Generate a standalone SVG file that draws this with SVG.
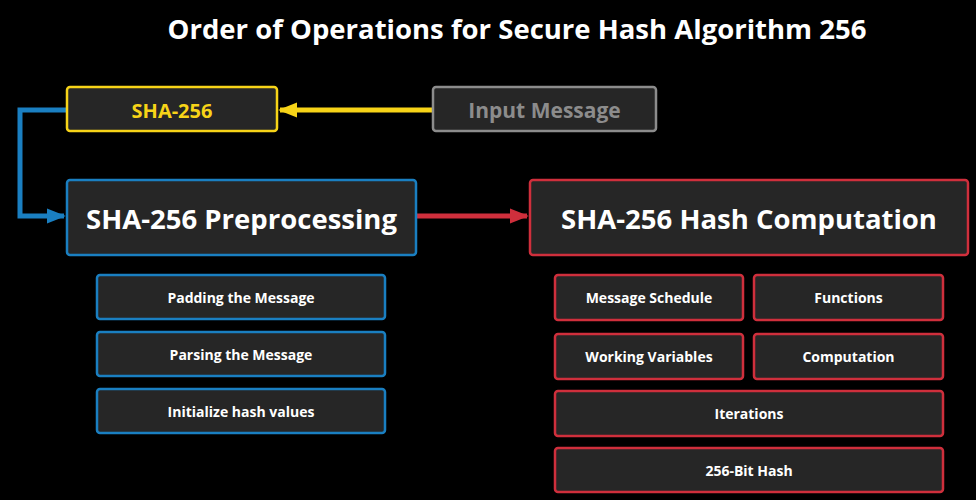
<svg xmlns="http://www.w3.org/2000/svg" width="976" height="500" viewBox="0 0 976 500">
<style>
text{font-family:"Open Sans","Noto Sans","DejaVu Sans",sans-serif;font-weight:bold;text-anchor:middle;dominant-baseline:central;fill:#ffffff}
.box{fill:#262626;stroke-width:2.5}
.y{stroke:#f7d418}
.g{stroke:#8c8c8c}
.b{stroke:#1a7fc1}
.r{stroke:#cf2f3c}
.s{font-size:14px}
</style>
<defs>
<marker id="ay" viewBox="0 0 10 10" refX="9" refY="5" markerWidth="3.8" markerHeight="3.8" orient="auto" markerUnits="strokeWidth"><path d="M0,1 L10,5 L0,9 z" fill="#f7d418"/></marker>
<marker id="ab" viewBox="0 0 10 10" refX="9" refY="5" markerWidth="3.8" markerHeight="3.8" orient="auto" markerUnits="strokeWidth"><path d="M0,1 L10,5 L0,9 z" fill="#1a7fc1"/></marker>
<marker id="ar" viewBox="0 0 10 10" refX="9" refY="5" markerWidth="3.8" markerHeight="3.8" orient="auto" markerUnits="strokeWidth"><path d="M0,1 L10,5 L0,9 z" fill="#cf2f3c"/></marker>
</defs>
<rect width="976" height="500" fill="#000"/>
<text x="517" y="28" style="font-size:27.5px">Order of Operations for Secure Hash Algorithm 256</text>
<g id="connectors" fill="none" stroke-width="5">
<path d="M433,110 H280" stroke="#f7d418" marker-end="url(#ay)"/>
<path d="M67,110 H20 V216 H64" stroke="#1a7fc1" marker-end="url(#ab)"/>
<path d="M417,216 H527" stroke="#cf2f3c" marker-end="url(#ar)"/>
</g>
<g id="sha256"><rect class="box y" x="67" y="87" width="210" height="44" rx="3"/><text x="172" y="110" style="font-size:20px;fill:#f7d418">SHA-256</text></g>
<g id="input"><rect class="box g" x="433" y="87" width="223" height="44" rx="3"/><text x="544.5" y="110" style="font-size:21px;fill:#8c8c8c">Input Message</text></g>
<g id="pre"><rect class="box b" x="67" y="180" width="349" height="75" rx="3"/><text x="241.5" y="218" style="font-size:27.5px">SHA-256 Preprocessing</text></g>
<g id="hash"><rect class="box r" x="530" y="180" width="438" height="75" rx="3"/><text x="749" y="218" style="font-size:27.5px">SHA-256 Hash Computation</text></g>
<g id="padding"><rect class="box b" x="97" y="275" width="288" height="44" rx="3"/><text class="s" x="241" y="297">Padding the Message</text></g>
<g id="parsing"><rect class="box b" x="97" y="332" width="288" height="44" rx="3"/><text class="s" x="241" y="354">Parsing the Message</text></g>
<g id="init"><rect class="box b" x="97" y="389" width="288" height="44" rx="3"/><text class="s" x="241" y="411">Initialize hash values</text></g>
<g id="schedule"><rect class="box r" x="555" y="275" width="188" height="45" rx="3"/><text class="s" x="649" y="297.5">Message Schedule</text></g>
<g id="functions"><rect class="box r" x="754" y="275" width="189" height="45" rx="3"/><text class="s" x="848.5" y="297.5">Functions</text></g>
<g id="working"><rect class="box r" x="555" y="334" width="188" height="45" rx="3"/><text class="s" x="649" y="356.5">Working Variables</text></g>
<g id="computation"><rect class="box r" x="754" y="334" width="189" height="45" rx="3"/><text class="s" x="848.5" y="356.5">Computation</text></g>
<g id="iterations"><rect class="box r" x="555" y="391" width="388" height="45" rx="3"/><text class="s" x="749" y="413.5">Iterations</text></g>
<g id="bithash"><rect class="box r" x="555" y="448" width="388" height="44" rx="3"/><text class="s" x="749" y="470">256-Bit Hash</text></g>
</svg>
